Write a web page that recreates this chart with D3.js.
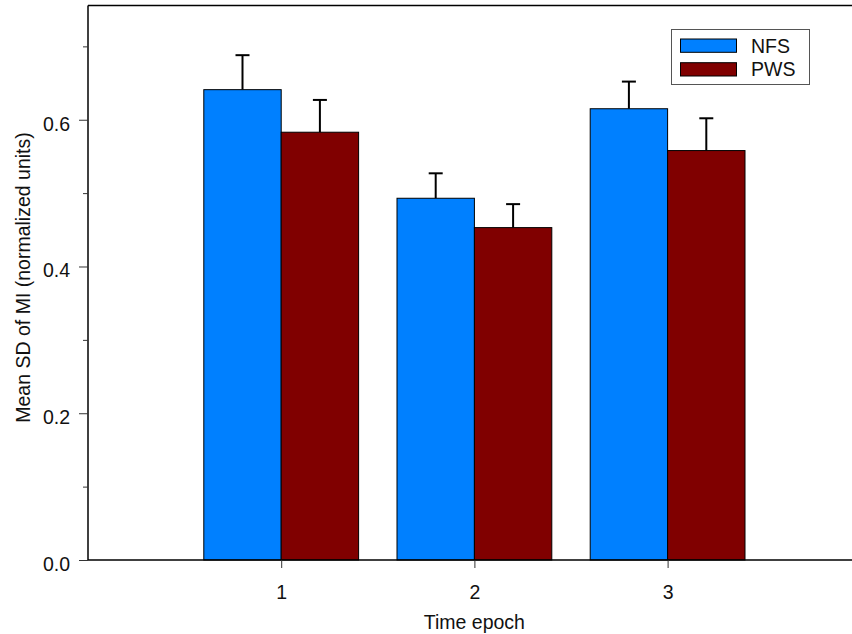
<!DOCTYPE html>
<html>
<head>
<meta charset="utf-8">
<script src="https://cdn.jsdelivr.net/npm/d3@7"></script>
<style>
  body { margin: 0; background: #fff; }
  svg { display: block; font-family: "Liberation Sans", Arial, sans-serif; }
</style>
</head>
<body>
<svg id="chart"></svg>
<script>
// data
const epochs = [1, 2, 3];
const series = ["NFS", "PWS"];
const nfsMean = [0.641, 0.493, 0.615];
const nfsErr = [0.047, 0.034, 0.037];
const pwsMean = [0.583, 0.453, 0.558];
const pwsErr = [0.044, 0.032, 0.044];
const yTicks = [0, 0.2, 0.4, 0.6];
const yMinorTicks = [0.1, 0.3, 0.5, 0.7];
const colors = ["#0080ff", "#800000"];

const width = 852, height = 634;
const marginLeft = 88, marginTop = 5.5, marginBottom = 74;
const fs = 19.5;

const svg = d3.select("#chart")
    .attr("width", width)
    .attr("height", height)
    .attr("viewBox", [0, 0, width, height]);

const x = d3.scaleLinear().domain([0, 4]).range([marginLeft, marginLeft + 4 * 193.2]);
const y = d3.scaleLinear().domain([0, 0.7557]).range([height - marginBottom, marginTop]);
const barW = 77.4;

const rows = [];
epochs.forEach((e, i) => {
  rows.push({ e, s: 0, v: nfsMean[i], err: nfsErr[i] });
  rows.push({ e, s: 1, v: pwsMean[i], err: pwsErr[i] });
});
const barX = d => d.s === 0 ? x(d.e) - barW : x(d.e);

// error bars (drawn first, bars cover the lower part)
const eb = svg.append("g").attr("stroke", "#000").attr("stroke-width", 2);
eb.selectAll("line.stem").data(rows).join("line")
    .attr("x1", d => barX(d) + barW / 2).attr("x2", d => barX(d) + barW / 2)
    .attr("y1", d => y(d.v)).attr("y2", d => y(d.v + d.err));
eb.selectAll("line.cap").data(rows).join("line")
    .attr("x1", d => barX(d) + barW / 2 - 7).attr("x2", d => barX(d) + barW / 2 + 7)
    .attr("y1", d => y(d.v + d.err)).attr("y2", d => y(d.v + d.err));

svg.append("g").selectAll("rect").data(rows).join("rect")
    .attr("x", barX)
    .attr("y", d => y(d.v))
    .attr("width", barW)
    .attr("height", d => y(0) - y(d.v))
    .attr("fill", d => colors[d.s])
    .attr("stroke", "#000")
    .attr("stroke-width", 1);

// frame lines: left, top, bottom
const frame = svg.append("g").attr("stroke", "#000").attr("stroke-width", 1.5);
frame.append("line").attr("x1", marginLeft).attr("x2", marginLeft).attr("y1", y.range()[1]).attr("y2", y(0));
frame.append("line").attr("x1", marginLeft).attr("x2", width).attr("y1", y.range()[1]).attr("y2", y.range()[1]);
frame.append("line").attr("x1", marginLeft).attr("x2", width).attr("y1", y(0)).attr("y2", y(0));

// y axis
svg.append("g")
    .attr("transform", `translate(${marginLeft},0)`)
    .call(d3.axisLeft(y).tickValues(yTicks).tickFormat(d3.format(".1f")).tickSize(9).tickPadding(9))
    .call(g => g.select(".domain").remove())
    .call(g => g.selectAll("text").attr("font-size", fs).attr("fill", "#111").attr("dy", 10.5))
    .call(g => g.selectAll("line").attr("stroke", "#333"));
svg.append("g")
    .attr("transform", `translate(${marginLeft},0)`)
    .call(d3.axisLeft(y).tickValues(yMinorTicks).tickFormat("").tickSize(5))
    .call(g => g.select(".domain").remove())
    .call(g => g.selectAll("line").attr("stroke", "#333"));

// x axis
svg.append("g")
    .attr("transform", `translate(0,${y(0)})`)
    .call(d3.axisBottom(x).tickValues(epochs).tickFormat(d3.format("d")).tickSize(8).tickPadding(0))
    .call(g => g.select(".domain").remove())
    .call(g => g.selectAll("text").attr("font-size", fs).attr("fill", "#111").attr("y", 39.3).attr("dy", 0))
    .call(g => g.selectAll("line").attr("stroke", "#333"));

// axis titles
svg.append("text")
    .attr("x", x(2)).attr("y", 629)
    .attr("text-anchor", "middle").attr("font-size", fs).attr("fill", "#111")
    .text("Time epoch");
svg.append("text")
    .attr("transform", `translate(29.5,277.5) rotate(-90)`)
    .attr("text-anchor", "middle").attr("font-size", fs).attr("fill", "#111")
    .text("Mean SD of MI (normalized units)");

// legend
const lg = svg.append("g").attr("transform", "translate(671.5,29.5)");
lg.append("rect").attr("width", 138).attr("height", 55)
    .attr("fill", "#fff").attr("stroke", "#555").attr("stroke-width", 1);
series.forEach((s, i) => {
  lg.append("rect")
      .attr("x", 9).attr("y", 9.5 + i * 23.7)
      .attr("width", 56).attr("height", 13.3)
      .attr("fill", colors[i]).attr("stroke", "#000").attr("stroke-width", 1);
  lg.append("text")
      .attr("x", 79.5).attr("y", 23 + i * 23.5)
      .attr("font-size", fs).attr("fill", "#111")
      .text(s);
});
</script>
</body>
</html>
